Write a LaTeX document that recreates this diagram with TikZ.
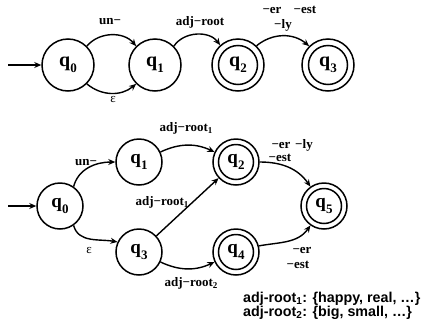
\documentclass[tikz,border=0pt]{standalone}
\usepackage{fontspec}
\setmainfont{Liberation Serif}
\newfontfamily\legendfont{Liberation Sans}
\usetikzlibrary{arrows.meta}
\newcommand{\qst}[2]{{\fontsize{#1}{#1}\selectfont\bfseries q}\raisebox{-0.3\dimexpr #1pt\relax}{\fontsize{13}{13}\selectfont\bfseries #2}}
\newcommand{\lsub}[1]{\raisebox{-2pt}{\fontsize{9}{9}\selectfont #1}}
\begin{document}
\begin{tikzpicture}[x=1pt,y=-1pt,
  lbl/.style={font=\fontsize{13}{13}\selectfont\bfseries,inner sep=0pt},
  st/.style={circle,draw,line width=1.5pt,inner sep=0pt},
  bigst/.style={st,minimum size=52pt},
  bigacc/.style={bigst,path picture={\draw[line width=1.5pt] (path picture bounding box.center) circle[radius=19.5pt];}},
  smst/.style={st,minimum size=46pt},
  smacc/.style={smst,path picture={\draw[line width=1.5pt] (path picture bounding box.center) circle[radius=17.5pt];}},
  arr/.style={line width=1.4pt,-{Stealth[length=7pt,width=6pt]}}]
\useasboundingbox (0,0) rectangle (429,330);
% top automaton
\node[bigst] (t0) at (68,65) {\qst{20}{0}};
\node[bigst] (t1) at (155,65) {\qst{20}{1}};
\node[bigacc] (t2) at (238,65) {\qst{20}{2}};
\node[bigacc] (t3) at (328,65) {\qst{20}{3}};
\coordinate (ts) at (8,65);
\draw[arr] (ts) -- (t0);
\draw[arr] (t0.45) to[bend left=50] (t1.135);
\draw[arr] (t0.-45) to[bend right=40] (t1.-135);
\draw[arr] (t1.45) to[bend left=55] (t2.132);
\draw[arr] (t2.46) to[bend left=40] (t3.135);
\node[lbl] (lt1) at (110,22) {un−};
\node[lbl] (lt2) at (200,22) {adj−root};
\node[lbl,font=\fontsize{13}{13}\selectfont] (lt3) at (113,99) {ε};
\node[lbl] (lt4) at (272,10) {−er};
\node[lbl] (lt5) at (305,10) {−est};
\node[lbl] (lt6) at (283,25) {−ly};
% bottom automaton
\node[smst] (b0) at (60,206) {\qst{19}{0}};
\node[smst] (b1) at (139,162) {\qst{19}{1}};
\node[smacc] (b2) at (236,162) {\qst{19}{2}};
\node[smst] (b3) at (139,252) {\qst{19}{3}};
\node[smacc] (b4) at (236,252) {\qst{19}{4}};
\node[smacc] (b5) at (324,206) {\qst{19}{5}};
\coordinate (bs) at (8,206);
\draw[arr] (bs) -- (b0);
\draw[arr] (b0.55) to[out=75,in=180] (b1.west);
\draw[arr] (b0.-55) to[out=-75,in=170] (b3.155);
\draw[arr] (b1.25) to[bend left=25] (b2.155);
\draw[arr] (b3) -- (b2);
\draw[arr] (b3.-25) to[bend right=25] (b4.-155);
\draw[arr] (b2.east) to[out=0,in=125] (b5.125);
\draw[arr] (b4.15) to[out=10,in=-125] (b5.-125);
\node[lbl] (lb1) at (86,163) {un−};
\node[lbl] (lb2) at (186,128) {adj−root\lsub{1}};
\node[lbl] (lb3) at (162,202) {adj−root\lsub{1}};
\node[lbl,font=\fontsize{13}{13}\selectfont] (lb4) at (89,250) {ε};
\node[lbl] (lb5) at (191,283) {adj−root\lsub{2}};
\node[lbl] (lb6) at (281,145) {−er};
\node[lbl] (lb7) at (304,145) {−ly};
\node[lbl] (lb8) at (280,158) {−est};
\node[lbl] (lb9) at (302,250) {−er};
\node[lbl] (lb10) at (298,265) {−est};
% legend
\node[anchor=west,inner sep=0pt,align=left,font=\legendfont\bfseries\fontsize{14.3}{12.8}\selectfont] (leg) at (243,306)
 {adj-root\textsubscript{1}: \{happy, real, …\}\\adj-root\textsubscript{2}: \{big, small, …\}};
\end{tikzpicture}
\end{document}
